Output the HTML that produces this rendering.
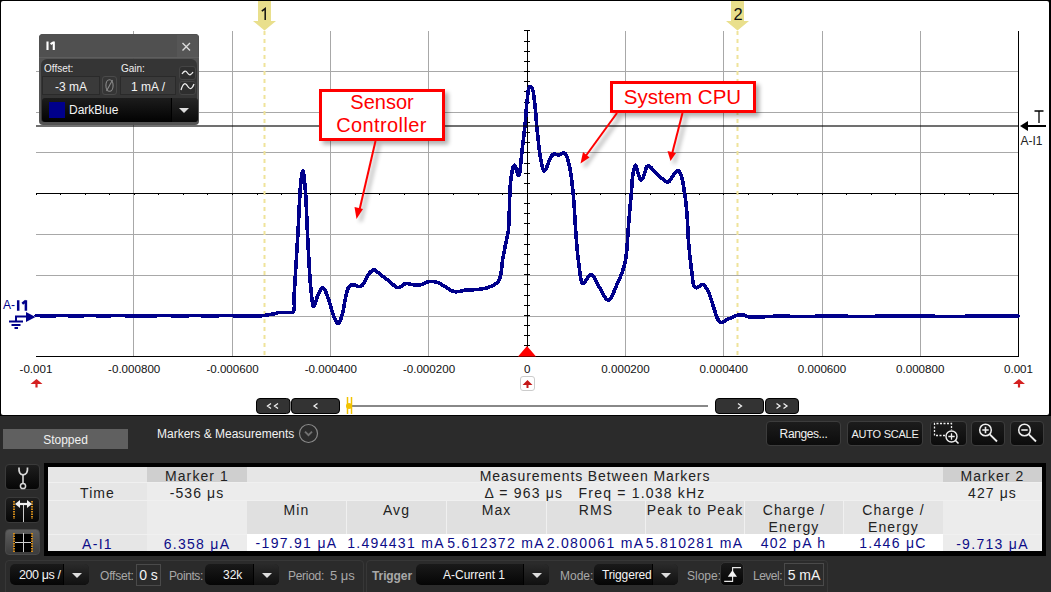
<!DOCTYPE html>
<html><head><meta charset="utf-8">
<style>
html,body{margin:0;padding:0;}
body{width:1051px;height:592px;background:#2b2b2b;position:relative;overflow:hidden;font-family:"Liberation Sans",sans-serif;}
.abs{position:absolute;white-space:nowrap;}
.btn{position:absolute;white-space:nowrap;background:linear-gradient(#1c1c1c,#0c0c0c);border:1px solid #3c3c3c;border-radius:4px;color:#f0f0f0;font-size:12.5px;text-align:center;box-sizing:border-box;}
.c{position:absolute;white-space:nowrap;box-sizing:border-box;font-size:14px;letter-spacing:1.1px;color:#222;text-align:center;}
.blue{color:#0c0c88;letter-spacing:1.3px;}
.lbl{position:absolute;white-space:nowrap;color:#a8a8a8;font-size:12px;}
.dd{position:absolute;background:linear-gradient(#1a1a1a,#050505);border-radius:5px;box-sizing:border-box;color:#f4f4f4;font-size:13px;}
.dda{position:absolute;top:0;bottom:0;right:0;background:linear-gradient(#2a2a2a,#101010);border-radius:0 5px 5px 0;border-left:1px solid #000;}
.dda:after{content:"";position:absolute;left:50%;top:50%;margin-left:-5px;margin-top:-2px;border-left:5px solid transparent;border-right:5px solid transparent;border-top:5px solid #ddd;}
</style></head><body>
<svg class="abs" style="left:0;top:0;font-family:'Liberation Sans',sans-serif" width="1051" height="416" viewBox="0 0 1051 416">
<rect x="0" y="0" width="1051" height="416" fill="#000"/>
<rect x="1" y="1" width="1048" height="414" rx="2" fill="#fff"/>
<g stroke="#a8a8a8" stroke-width="1" shape-rendering="crispEdges">
<line x1="133.5" y1="31" x2="133.5" y2="356" />
<line x1="232.5" y1="31" x2="232.5" y2="356" />
<line x1="330.5" y1="31" x2="330.5" y2="356" />
<line x1="428.5" y1="31" x2="428.5" y2="356" />
<line x1="625.5" y1="31" x2="625.5" y2="356" />
<line x1="723.5" y1="31" x2="723.5" y2="356" />
<line x1="822.5" y1="31" x2="822.5" y2="356" />
<line x1="920.5" y1="31" x2="920.5" y2="356" />
<line x1="36" y1="71.5" x2="1018" y2="71.5" />
<line x1="36" y1="112.5" x2="1018" y2="112.5" />
<line x1="36" y1="152.5" x2="1018" y2="152.5" />
<line x1="36" y1="234.5" x2="1018" y2="234.5" />
<line x1="36" y1="275.5" x2="1018" y2="275.5" />
<line x1="36" y1="316.5" x2="1018" y2="316.5" />
</g>
<g stroke="#000" stroke-width="1" shape-rendering="crispEdges">
<line x1="36" y1="193.5" x2="1018" y2="193.5"/>
<line x1="527.5" y1="31" x2="527.5" y2="356"/>
<line x1="36" y1="356.5" x2="1019" y2="356.5"/>
<line x1="1018.5" y1="31" x2="1018.5" y2="357"/>
<line x1="524" y1="30.5" x2="530" y2="30.5" />
<line x1="524" y1="41.5" x2="530" y2="41.5" />
<line x1="524" y1="51.5" x2="530" y2="51.5" />
<line x1="524" y1="61.5" x2="530" y2="61.5" />
<line x1="524" y1="71.5" x2="530" y2="71.5" />
<line x1="524" y1="81.5" x2="530" y2="81.5" />
<line x1="524" y1="91.5" x2="530" y2="91.5" />
<line x1="524" y1="102.5" x2="530" y2="102.5" />
<line x1="524" y1="112.5" x2="530" y2="112.5" />
<line x1="524" y1="122.5" x2="530" y2="122.5" />
<line x1="524" y1="132.5" x2="530" y2="132.5" />
<line x1="524" y1="142.5" x2="530" y2="142.5" />
<line x1="524" y1="152.5" x2="530" y2="152.5" />
<line x1="524" y1="163.5" x2="530" y2="163.5" />
<line x1="524" y1="173.5" x2="530" y2="173.5" />
<line x1="524" y1="183.5" x2="530" y2="183.5" />
<line x1="524" y1="193.5" x2="530" y2="193.5" />
<line x1="524" y1="203.5" x2="530" y2="203.5" />
<line x1="524" y1="213.5" x2="530" y2="213.5" />
<line x1="524" y1="223.5" x2="530" y2="223.5" />
<line x1="524" y1="234.5" x2="530" y2="234.5" />
<line x1="524" y1="244.5" x2="530" y2="244.5" />
<line x1="524" y1="254.5" x2="530" y2="254.5" />
<line x1="524" y1="264.5" x2="530" y2="264.5" />
<line x1="524" y1="274.5" x2="530" y2="274.5" />
<line x1="524" y1="284.5" x2="530" y2="284.5" />
<line x1="524" y1="295.5" x2="530" y2="295.5" />
<line x1="524" y1="305.5" x2="530" y2="305.5" />
<line x1="524" y1="315.5" x2="530" y2="315.5" />
<line x1="524" y1="325.5" x2="530" y2="325.5" />
<line x1="524" y1="335.5" x2="530" y2="335.5" />
<line x1="524" y1="345.5" x2="530" y2="345.5" />
<line x1="36.5" y1="193" x2="36.5" y2="195" />
<line x1="60.5" y1="193" x2="60.5" y2="195" />
<line x1="85.5" y1="193" x2="85.5" y2="195" />
<line x1="109.5" y1="193" x2="109.5" y2="195" />
<line x1="134.5" y1="193" x2="134.5" y2="195" />
<line x1="158.5" y1="193" x2="158.5" y2="195" />
<line x1="183.5" y1="193" x2="183.5" y2="195" />
<line x1="207.5" y1="193" x2="207.5" y2="195" />
<line x1="232.5" y1="193" x2="232.5" y2="195" />
<line x1="257.5" y1="193" x2="257.5" y2="195" />
<line x1="281.5" y1="193" x2="281.5" y2="195" />
<line x1="306.5" y1="193" x2="306.5" y2="195" />
<line x1="330.5" y1="193" x2="330.5" y2="195" />
<line x1="355.5" y1="193" x2="355.5" y2="195" />
<line x1="379.5" y1="193" x2="379.5" y2="195" />
<line x1="404.5" y1="193" x2="404.5" y2="195" />
<line x1="428.5" y1="193" x2="428.5" y2="195" />
<line x1="453.5" y1="193" x2="453.5" y2="195" />
<line x1="478.5" y1="193" x2="478.5" y2="195" />
<line x1="502.5" y1="193" x2="502.5" y2="195" />
<line x1="527.5" y1="193" x2="527.5" y2="195" />
<line x1="551.5" y1="193" x2="551.5" y2="195" />
<line x1="576.5" y1="193" x2="576.5" y2="195" />
<line x1="600.5" y1="193" x2="600.5" y2="195" />
<line x1="625.5" y1="193" x2="625.5" y2="195" />
<line x1="650.5" y1="193" x2="650.5" y2="195" />
<line x1="674.5" y1="193" x2="674.5" y2="195" />
<line x1="699.5" y1="193" x2="699.5" y2="195" />
<line x1="723.5" y1="193" x2="723.5" y2="195" />
<line x1="748.5" y1="193" x2="748.5" y2="195" />
<line x1="772.5" y1="193" x2="772.5" y2="195" />
<line x1="797.5" y1="193" x2="797.5" y2="195" />
<line x1="822.5" y1="193" x2="822.5" y2="195" />
<line x1="846.5" y1="193" x2="846.5" y2="195" />
<line x1="871.5" y1="193" x2="871.5" y2="195" />
<line x1="895.5" y1="193" x2="895.5" y2="195" />
<line x1="920.5" y1="193" x2="920.5" y2="195" />
<line x1="944.5" y1="193" x2="944.5" y2="195" />
<line x1="969.5" y1="193" x2="969.5" y2="195" />
<line x1="993.5" y1="193" x2="993.5" y2="195" />
</g>
<!-- markers -->
<g stroke="#efe39a" stroke-width="2" stroke-dasharray="4 4">
<line x1="264.5" y1="31" x2="264.5" y2="356"/>
<line x1="737.5" y1="31" x2="737.5" y2="356"/>
</g>
<g fill="#e9df8c">
<path d="M258 1 H271 V21 H276 L264.5 30.5 L253 21 H258 Z"/>
<path d="M731 1 H744 V21 H749 L737.5 30.5 L726 21 H731 Z"/>
</g>
<g font-size="14" fill="#111" text-anchor="middle">

<text x="738" y="20" font-size="16.5" font-weight="normal">2</text>
</g>
<path d="M261.8 11.2 L265.2 8.6 V20" fill="none" stroke="#111" stroke-width="1.5"/>
<!-- trace -->
<polyline points="36.0,315.5 36.7,315.5 38.6,315.6 41.3,315.8 44.4,315.9 47.4,316.0 50.0,316.0 52.0,316.0 54.1,315.9 56.0,315.7 58.0,315.6 60.0,315.5 62.0,315.5 64.1,315.5 66.3,315.6 68.4,315.7 70.6,315.9 72.8,316.0 75.0,316.0 77.4,316.0 79.9,315.9 82.4,315.8 85.0,315.6 87.5,315.5 90.0,315.5 92.5,315.5 95.0,315.6 97.6,315.8 100.1,315.9 102.6,316.0 105.0,316.0 107.2,316.0 109.4,315.9 111.5,315.7 113.7,315.6 115.8,315.5 118.0,315.5 120.3,315.5 122.6,315.6 124.9,315.7 127.2,315.8 129.6,315.9 132.0,316.0 134.9,316.0 137.9,316.1 141.0,316.1 144.0,316.1 147.1,316.0 150.0,316.0 152.6,315.9 155.1,315.8 157.6,315.7 160.1,315.6 162.5,315.5 165.0,315.5 167.5,315.5 170.0,315.6 172.5,315.8 175.0,315.9 177.5,316.0 180.0,316.0 182.5,316.0 185.0,315.9 187.5,315.8 190.0,315.6 192.5,315.5 195.0,315.5 197.5,315.5 200.0,315.6 202.5,315.8 205.0,315.9 207.5,316.0 210.0,316.0 212.5,316.0 215.0,315.9 217.5,315.8 220.0,315.6 222.5,315.5 225.0,315.5 227.5,315.5 230.1,315.6 232.6,315.7 235.1,315.8 237.6,315.9 240.0,316.0 242.1,316.1 244.3,316.1 246.3,316.1 248.4,316.2 250.3,316.2 252.0,316.2 253.1,316.2 254.2,316.2 255.1,316.1 256.1,316.1 257.0,316.1 258.0,316.0 259.0,315.9 260.0,315.9 261.0,315.8 262.0,315.7 263.0,315.6 264.0,315.5 265.0,315.4 266.0,315.2 267.0,315.0 268.0,314.9 269.0,314.7 270.0,314.5 271.0,314.3 272.1,314.2 273.1,314.0 274.2,313.9 275.1,313.7 276.0,313.5 276.5,313.3 277.0,313.2 277.4,313.0 277.9,312.8 278.4,312.6 279.0,312.5 280.8,312.4 283.1,312.4 285.7,312.4 288.3,312.5 290.5,312.5 292.0,312.3 292.4,312.2 292.7,312.1 293.0,312.1 293.2,312.0 293.4,311.8 293.6,311.5 294.1,310.0 294.3,307.5 294.3,304.5 294.2,301.2 294.2,297.9 294.2,295.0 294.3,292.7 294.4,290.5 294.5,288.3 294.7,286.1 294.8,283.6 295.0,280.7 295.4,274.2 295.9,266.6 296.4,258.1 296.9,249.2 297.5,240.3 298.0,231.8 298.5,223.3 298.9,214.3 299.3,205.3 299.8,196.8 300.2,189.2 300.8,183.0 301.1,180.2 301.4,177.5 301.8,174.9 302.1,172.8 302.5,171.4 302.8,170.9 303.2,171.6 303.6,173.3 303.9,175.9 304.3,179.1 304.7,182.5 305.0,185.9 305.6,193.4 306.1,202.5 306.6,212.7 307.0,223.3 307.5,233.7 308.0,243.3 308.4,251.5 308.9,259.8 309.3,268.0 309.8,275.8 310.3,283.0 310.9,289.3 311.3,293.1 311.7,296.9 312.1,300.6 312.6,303.7 313.1,305.8 313.7,306.6 314.3,306.0 314.9,304.4 315.6,302.1 316.4,299.5 317.2,297.0 318.0,295.0 318.8,293.5 319.6,291.9 320.4,290.4 321.2,289.1 322.1,288.2 322.9,287.9 323.8,288.4 324.7,289.7 325.6,291.5 326.4,293.6 327.3,295.8 328.1,297.9 329.1,300.8 330.1,304.0 331.0,307.5 331.9,310.9 332.9,314.0 333.9,316.6 334.6,318.2 335.4,319.7 336.1,321.2 336.9,322.4 337.6,323.2 338.3,323.5 339.0,323.0 339.7,321.9 340.4,320.3 341.0,318.4 341.6,316.4 342.2,314.5 342.9,312.0 343.4,309.3 344.0,306.4 344.5,303.5 345.0,300.7 345.5,298.2 345.9,296.3 346.3,294.4 346.7,292.6 347.1,290.9 347.6,289.4 348.2,288.1 348.6,287.4 349.0,286.8 349.5,286.2 350.0,285.7 350.5,285.3 351.0,285.0 351.5,284.8 352.0,284.8 352.6,284.8 353.2,284.8 353.7,284.9 354.3,285.0 355.0,285.2 355.7,285.4 356.3,285.7 357.0,286.0 357.7,286.3 358.4,286.4 359.0,286.4 359.6,286.4 360.2,286.4 360.7,286.3 361.3,286.1 361.8,285.8 362.5,285.1 363.2,284.1 363.9,283.0 364.5,281.7 365.1,280.5 365.8,279.3 366.5,278.1 367.1,276.9 367.8,275.7 368.4,274.6 369.2,273.5 369.9,272.6 370.5,272.0 371.2,271.3 371.9,270.8 372.6,270.3 373.2,270.0 373.9,269.9 374.5,270.0 375.0,270.2 375.6,270.6 376.1,271.0 376.7,271.5 377.3,271.9 378.2,272.5 379.0,273.2 380.0,274.0 380.9,274.8 381.8,275.6 382.8,276.4 383.8,277.2 384.8,277.9 385.7,278.7 386.8,279.4 387.8,280.2 388.9,281.0 390.3,282.2 391.8,283.5 393.4,284.9 394.9,286.2 396.5,287.1 398.0,287.5 399.3,287.3 400.6,286.7 401.8,285.8 403.1,284.8 404.4,284.0 405.7,283.6 407.0,283.5 408.2,283.7 409.5,284.0 410.8,284.3 412.1,284.6 413.3,284.8 414.4,284.9 415.5,285.0 416.6,285.0 417.7,285.0 418.8,285.0 420.0,284.8 421.6,284.4 423.3,283.8 425.0,283.0 426.8,282.3 428.4,281.7 430.0,281.4 431.1,281.3 432.1,281.3 433.1,281.4 434.1,281.5 435.0,281.8 436.0,282.0 437.0,282.3 437.9,282.7 438.9,283.2 439.9,283.7 440.9,284.2 442.0,284.8 443.8,285.8 445.8,287.2 447.9,288.6 450.1,289.9 452.2,290.9 454.4,291.6 456.4,291.8 458.4,291.6 460.4,291.2 462.4,290.7 464.5,290.3 466.5,290.0 468.5,289.9 470.6,289.8 472.7,289.8 474.7,289.7 476.7,289.6 478.7,289.4 480.5,289.1 482.4,288.9 484.2,288.5 486.0,288.1 487.7,287.6 489.4,287.0 491.1,286.3 492.7,285.6 494.4,284.7 495.9,283.7 497.3,282.5 498.5,281.0 499.9,278.1 500.8,274.4 501.4,270.2 501.9,265.8 502.4,261.4 503.0,257.4 503.7,253.9 504.4,250.3 505.1,246.8 505.7,243.4 506.4,240.3 506.9,237.6 507.2,236.2 507.5,235.1 507.7,234.0 507.9,232.9 508.2,231.6 508.4,230.0 508.9,223.6 509.2,214.8 509.5,204.7 509.8,194.4 510.3,185.1 511.0,178.0 511.5,175.1 512.0,172.2 512.5,169.5 513.1,167.4 513.7,165.9 514.4,165.3 515.1,166.0 515.8,167.9 516.5,170.4 517.3,172.8 518.0,174.7 518.6,175.4 519.4,174.1 520.0,170.9 520.5,166.3 521.0,161.1 521.5,155.7 522.0,151.0 522.6,146.3 523.2,141.3 523.8,136.3 524.3,131.4 524.8,126.6 525.3,122.0 525.6,118.4 525.9,115.0 526.1,111.6 526.4,108.3 526.6,105.1 527.0,102.0 527.3,99.0 527.6,95.8 528.0,92.6 528.4,89.8 528.9,87.8 529.6,86.8 530.0,86.7 530.4,86.9 530.8,87.1 531.2,87.5 531.6,87.9 532.0,88.4 532.7,89.8 533.2,91.7 533.6,94.0 533.9,96.6 534.2,99.3 534.6,102.0 535.1,106.2 535.5,110.8 535.9,115.7 536.3,120.8 536.7,125.8 537.2,130.7 537.7,135.4 538.2,140.1 538.7,144.9 539.2,149.5 539.8,153.8 540.5,157.7 541.0,160.5 541.6,163.4 542.1,166.3 542.7,168.6 543.5,170.3 544.3,171.0 545.5,170.0 546.8,167.2 548.2,163.4 549.8,159.5 551.4,156.2 553.0,154.4 553.9,154.1 554.9,154.2 555.8,154.4 556.8,154.7 557.8,155.0 558.7,155.0 559.7,154.7 560.7,154.2 561.7,153.7 562.7,153.2 563.6,152.9 564.4,153.0 565.4,153.8 566.2,155.0 566.9,156.7 567.5,158.7 568.1,160.8 568.7,163.0 569.6,166.8 570.4,171.2 571.2,176.0 571.8,181.1 572.4,186.4 573.0,191.7 573.6,198.5 574.2,205.7 574.6,213.2 575.1,220.7 575.5,228.0 576.0,234.8 576.4,240.0 576.8,245.0 577.2,249.9 577.7,254.6 578.2,259.2 578.8,263.6 579.3,267.6 579.8,271.9 580.4,276.1 581.0,279.8 581.9,282.5 583.0,283.7 584.1,283.2 585.4,281.5 586.8,279.2 588.3,276.9 589.7,275.2 591.1,274.5 592.5,275.2 593.8,276.8 595.1,279.1 596.3,281.7 597.6,284.3 599.0,286.6 600.5,289.2 602.1,292.2 603.7,295.2 605.3,297.8 606.9,299.6 608.4,300.3 609.8,299.6 611.1,297.9 612.3,295.4 613.6,292.5 614.8,289.4 616.0,286.6 617.6,283.2 619.2,279.7 620.8,275.9 622.3,272.0 623.6,267.9 624.8,263.6 625.9,257.9 626.6,251.8 627.2,245.3 627.6,238.8 628.0,232.3 628.5,226.0 629.0,220.1 629.5,214.0 630.0,208.1 630.5,202.3 631.0,196.8 631.4,191.7 631.7,188.3 631.9,185.1 632.1,182.0 632.3,179.0 632.6,176.3 633.0,173.8 633.3,172.0 633.7,170.1 634.2,168.3 634.6,166.8 635.1,165.7 635.5,165.3 635.9,165.7 636.4,166.9 636.8,168.6 637.2,170.4 637.7,172.3 638.2,173.8 638.7,175.1 639.1,176.5 639.6,177.8 640.1,179.0 640.6,179.9 641.1,180.2 641.5,180.0 641.9,179.6 642.3,178.9 642.7,178.1 643.2,177.2 643.6,176.3 644.3,174.6 644.9,172.5 645.5,170.2 646.2,168.1 647.0,166.5 647.9,165.7 648.8,165.8 649.7,166.3 650.7,167.2 651.7,168.3 652.8,169.4 653.8,170.4 655.0,171.6 656.3,172.9 657.5,174.3 658.8,175.6 660.1,176.9 661.4,178.0 662.5,178.9 663.7,179.8 664.8,180.7 666.0,181.4 667.1,181.9 668.1,181.9 669.1,181.4 669.9,180.5 670.8,179.3 671.6,178.0 672.4,176.6 673.2,175.5 674.0,174.5 674.8,173.3 675.6,172.2 676.4,171.3 677.1,170.6 677.8,170.4 678.4,170.7 679.0,171.3 679.6,172.1 680.1,173.2 680.6,174.3 681.1,175.5 681.8,177.5 682.4,179.8 682.9,182.4 683.3,185.1 683.8,187.9 684.2,190.7 684.7,193.9 685.2,197.1 685.6,200.4 686.0,203.9 686.4,207.4 686.7,211.0 687.1,215.7 687.4,220.7 687.7,225.9 687.9,231.0 688.1,235.7 688.4,239.7 688.5,241.7 688.7,243.5 688.8,245.1 689.0,246.7 689.1,248.4 689.3,250.3 689.6,253.6 690.0,257.2 690.4,261.1 690.9,265.0 691.3,268.7 691.8,272.2 692.2,275.0 692.5,277.8 692.8,280.6 693.2,283.1 693.7,285.2 694.4,286.6 694.8,287.0 695.1,287.3 695.5,287.6 696.0,287.7 696.4,287.8 696.9,287.8 697.8,287.5 698.7,286.8 699.8,286.0 700.8,285.1 701.9,284.5 702.8,284.4 703.7,284.8 704.6,285.6 705.5,286.7 706.3,288.0 707.1,289.4 707.9,290.8 709.0,293.1 710.0,295.9 711.0,298.9 712.0,302.0 712.9,305.0 713.8,307.7 714.5,309.9 715.2,312.1 715.8,314.3 716.5,316.3 717.2,318.0 718.0,319.5 718.5,320.3 719.0,321.0 719.6,321.6 720.1,322.1 720.7,322.4 721.4,322.6 722.2,322.5 723.2,322.1 724.1,321.5 725.1,320.8 726.2,320.1 727.3,319.5 728.9,318.8 730.6,318.0 732.4,317.2 734.2,316.4 735.9,315.8 737.4,315.3 738.3,315.1 739.2,314.9 740.0,314.8 740.8,314.7 741.6,314.7 742.5,314.8 743.6,315.0 744.6,315.4 745.8,315.8 746.9,316.3 748.1,316.7 749.3,317.0 750.8,317.2 752.4,317.2 754.0,317.2 755.7,317.1 757.5,317.1 759.4,317.0 762.4,316.9 765.6,316.7 769.1,316.5 772.7,316.3 776.2,316.2 779.7,316.1 783.0,316.1 786.3,316.2 789.6,316.3 792.9,316.4 796.4,316.5 800.0,316.5 804.7,316.5 809.6,316.4 814.6,316.3 819.8,316.1 824.9,316.0 830.0,316.0 835.0,316.0 840.0,316.1 845.0,316.2 850.0,316.4 855.0,316.5 860.0,316.5 865.0,316.5 870.0,316.4 875.0,316.3 880.0,316.2 885.0,316.1 890.0,316.0 895.0,316.0 900.0,315.9 905.0,315.9 910.0,315.9 915.0,316.0 920.0,316.0 925.0,316.1 930.0,316.2 935.0,316.3 940.0,316.4 945.0,316.5 950.0,316.5 955.0,316.5 959.9,316.4 964.8,316.3 969.7,316.2 974.8,316.1 980.0,316.0 987.0,316.0 995.1,316.0 1003.5,316.0 1010.8,316.0 1016.0,316.0 1018.0,316.0" fill="none" stroke="#00008b" stroke-width="3.6" stroke-linejoin="round" stroke-linecap="round" shape-rendering="crispEdges"/>
<line x1="36" y1="126" x2="1018" y2="126" stroke="rgba(0,0,0,0.56)" stroke-width="2" shape-rendering="crispEdges"/>
<!-- trigger T -->
<path d="M1020 126 L1028 121 L1028 131 Z" fill="#000"/>
<line x1="1026" y1="126" x2="1046" y2="126" stroke="#000" stroke-width="2"/>
<path d="M1034.5 111 H1043.5 M1039 111 V123" stroke="#000" stroke-width="1.3" fill="none"/>
<text x="1031.5" y="145" font-size="12" text-anchor="middle" fill="#222">A-I1</text>
<!-- left channel indicator -->
<text x="3" y="309" font-size="12" fill="#00008b">A-</text>
<path d="M18.2 300.2 V310.8 M25.9 300.2 V310.8 M22.3 303.8 L25.9 300.8" fill="none" stroke="#00008b" stroke-width="2.5"/>
<path d="M26 312 L35.5 317 L26 322 Z" fill="#00008b"/>
<path d="M16 321 V316.5 H28" fill="none" stroke="#00008b" stroke-width="2"/>
<g stroke="#00008b" stroke-width="2"><line x1="9" y1="321.5" x2="23" y2="321.5"/><line x1="11.5" y1="325" x2="20.5" y2="325"/><line x1="14.5" y1="328" x2="18" y2="328"/></g>
<!-- axis labels -->
<g font-size="11.6" fill="#111" text-anchor="middle">
<text x="36.0" y="373">-0.001</text>
<text x="134.2" y="373">-0.000800</text>
<text x="232.5" y="373">-0.000600</text>
<text x="330.8" y="373">-0.000400</text>
<text x="429.0" y="373">-0.000200</text>
<text x="527.2" y="373">0</text>
<text x="625.5" y="373">0.000200</text>
<text x="723.8" y="373">0.000400</text>
<text x="822.0" y="373">0.000600</text>
<text x="920.2" y="373">0.000800</text>
<text x="1018.5" y="373">0.001</text>
</g>
<!-- red trigger triangle -->
<path d="M518 356.5 L527 346 L536 356.5 Z" fill="#f00"/>
<g fill="#d42020">
<path d="M30.5 384 L36.5 379 L42.5 384 H37.6 V387.5 H35.4 V384 Z"/>
<path d="M1013 384 L1019 379 L1025 384 H1020.1 V387.5 H1017.9 V384 Z"/>
</g>
<rect x="520.5" y="376.5" width="14" height="14" rx="2.5" fill="#fff" stroke="#ccc"/>
<path d="M522.5 385 L527.5 380 L532.5 385 H528.5 V388 H526.5 V385 Z" fill="#c41818"/>
<!-- scrollbar -->
<line x1="350" y1="406" x2="708" y2="406" stroke="#888" stroke-width="2"/>
<g fill="#333" stroke="#000" stroke-width="1">
<rect x="256.5" y="398.5" width="33.5" height="15" rx="3.5"/>
<rect x="291.5" y="398.5" width="48" height="15" rx="3.5"/>
<rect x="715.5" y="398.5" width="48" height="15" rx="3.5"/>
<rect x="765.5" y="398.5" width="33" height="15" rx="3.5"/>
</g>
<g fill="none" stroke="#f0f0f0" stroke-width="1.3">
<path d="M271 403.5 L267.5 406 L271 408.5 M278 403.5 L274.5 406 L278 408.5"/>
<path d="M317.5 403.5 L314 406 L317.5 408.5"/>
<path d="M738 403.5 L741.5 406 L738 408.5"/>
<path d="M776.5 403.5 L780 406 L776.5 408.5 M783.5 403.5 L787 406 L783.5 408.5"/>
</g>
<g stroke="#f2c200" stroke-width="1.5"><line x1="347.5" y1="397" x2="347.5" y2="414"/><line x1="351.5" y1="397" x2="351.5" y2="414"/></g>
<circle cx="349" cy="406" r="3" fill="#f2c200"/>
<!-- annotations -->
<defs><filter id="sh" x="-20%" y="-20%" width="150%" height="150%"><feGaussianBlur stdDeviation="2"/></filter></defs>
<g opacity="0.3" filter="url(#sh)" transform="translate(3.5,3.5)">
<rect x="319" y="89" width="126" height="52" fill="#000"/>
<rect x="610" y="81" width="146" height="32" fill="#000"/>
<path d="M375.5 141 L357 218" stroke="#000" stroke-width="3"/>
<path d="M617 113 L581 163" stroke="#000" stroke-width="3"/>
<path d="M682.5 113 L670.5 160" stroke="#000" stroke-width="3"/>
</g>
<g fill="#fff" stroke="#ff0000" stroke-width="3">
<rect x="320.5" y="90.5" width="123" height="49"/>
<rect x="611.5" y="82.5" width="143" height="29"/>
</g>
<g font-size="20" fill="#ff0000" text-anchor="middle">
<text x="382" y="109">Sensor</text>
<text x="381.5" y="132" letter-spacing="0.4">Controller</text>
<text x="682.5" y="104" font-size="20.5">System CPU</text>
</g>
<g stroke="#ff0000" stroke-width="2" fill="none">
<path d="M375.5 141 L359 212"/>
<path d="M617 113 L585 157"/>
<path d="M682.5 113 L672 154"/>
</g>
<g fill="#ff0000">
<path d="M356.5 219 L354.5 207 L363 209 Z"/>
<path d="M580.5 163.5 L583 152 L589.5 157.5 Z"/>
<path d="M670.5 161 L667.5 151 L676 153 Z"/>
</g>
</svg>
<!-- I1 panel -->
<div class="abs" style="left:39px;top:34px;width:160px;height:91px;background:rgba(76,76,76,0.96);border-radius:4px;">
  <div class="abs" style="left:0;top:0;width:160px;height:24px;background:#505050;border-radius:4px 4px 0 0;border-bottom:1px solid #5e5e5e;box-sizing:border-box;"></div>
  <svg class="abs" style="left:0;top:0" width="30" height="24"><path d="M8.5 7.5 V16 M14.8 7.5 V16 M11.6 10.2 L14.8 8" fill="none" stroke="#fff" stroke-width="2.1"/></svg>
  <div class="abs" style="left:138px;top:1px;width:21px;height:22px;background:#565656;"></div>
  <svg class="abs" style="left:142px;top:8px" width="12" height="10"><path d="M1.5 1 L9 8.5 M9 1 L1.5 8.5" stroke="#dcdcdc" stroke-width="1.4"/></svg>
  <div class="abs" style="left:2px;top:25px;width:156px;height:63px;background:rgba(52,52,52,0.96);border-radius:6px 6px 3px 3px;"></div>
  <div class="abs" style="left:5px;top:29px;color:#eee;font-size:10px;">Offset:</div>
  <div class="abs" style="left:82px;top:29px;color:#eee;font-size:10px;">Gain:</div>
  <div class="abs" style="left:3px;top:42px;width:58px;height:19px;background:#3a3a3a;border:1px solid #2a2a2a;box-sizing:border-box;color:#f4f4f4;font-size:12px;text-align:center;line-height:20px;">-3 mA</div>
  <div class="abs" style="left:63px;top:42px;width:15px;height:19px;border:1px solid #4a4a4a;border-radius:3px;box-sizing:border-box;"></div><svg class="abs" style="left:63px;top:42px" width="15" height="19"><ellipse cx="7.5" cy="9.5" rx="3.6" ry="5.8" fill="none" stroke="#8a8a8a" stroke-width="1.1"/><line x1="4.5" y1="15" x2="10.5" y2="4" stroke="#8a8a8a" stroke-width="1.1"/></svg>
  <div class="abs" style="left:81px;top:42px;width:56px;height:19px;background:#3a3a3a;border:1px solid #2a2a2a;box-sizing:border-box;color:#f4f4f4;font-size:12px;text-align:center;line-height:20px;">1 mA /</div>
  <div class="abs" style="left:140px;top:32px;width:17px;height:14px;border:1px solid #444;border-radius:3px;box-sizing:border-box;background:#2e2e2e;"></div>
  <div class="abs" style="left:140px;top:47px;width:17px;height:14px;border:1px solid #444;border-radius:3px;box-sizing:border-box;background:#2e2e2e;"></div>
  <svg class="abs" style="left:140px;top:32px" width="17" height="30"><path d="M3 8 Q6 3 8.5 7 T14 6" stroke="#eee" stroke-width="1.3" fill="none"/><path d="M2 24 Q5 14 8.5 20 T15 18" stroke="#eee" stroke-width="1.3" fill="none"/></svg>
  <div class="abs" style="left:3px;top:64px;width:155px;height:24px;background:linear-gradient(#1c1c1c,#020202);border-radius:3px;"></div>
  <div class="abs" style="left:10px;top:68px;width:16px;height:16px;background:#00008b;"></div>
  <div class="abs" style="left:30px;top:69px;color:#f4f4f4;font-size:12px;">DarkBlue</div>
  <div class="abs" style="left:132px;top:64px;width:26px;height:24px;background:linear-gradient(#262626,#0a0a0a);border-left:1px solid #000;border-radius:0 3px 3px 0;"></div>
  <div class="abs" style="left:140px;top:74px;border-left:5px solid transparent;border-right:5px solid transparent;border-top:5px solid #ddd;"></div>
</div>

<!-- bottom panel -->
<div class="abs" style="left:3px;top:429px;width:125px;height:20px;background:#606060;color:#f0f0f0;font-size:12px;text-align:center;line-height:23px;">Stopped</div>
<div class="abs" style="left:157px;top:427px;color:#f2f2f2;font-size:12px;">Markers &amp; Measurements</div>
<svg class="abs" style="left:298px;top:423px" width="21" height="21"><circle cx="10.5" cy="10.5" r="9" fill="none" stroke="#8a8a8a" stroke-width="1.2"/><path d="M7 8.6 L10.5 12.2 L14 8.6" fill="none" stroke="#707070" stroke-width="1.9"/></svg>

<div class="btn" style="left:766px;top:421px;width:75px;height:25px;line-height:25px;font-size:12px;letter-spacing:-0.4px;">Ranges...</div>
<div class="btn" style="left:847px;top:421px;width:76px;height:25px;line-height:25px;font-size:11px;letter-spacing:-0.25px;">AUTO SCALE</div>
<div class="btn" style="left:930px;top:421px;width:37px;height:25px;"></div>
<div class="btn" style="left:971px;top:421px;width:34px;height:25px;"></div>
<div class="btn" style="left:1010px;top:421px;width:34px;height:25px;"></div>
<svg class="abs" style="left:930px;top:421px" width="120" height="26">
 <path d="M15 14.5 H4.5 V2.5 H21.5 V9" fill="none" stroke="#eee" stroke-width="1.3" stroke-dasharray="2 1.5"/>
 <circle cx="21.5" cy="15.5" r="5.5" fill="#0e0e0e" stroke="#eee" stroke-width="1.4"/>
 <path d="M18.3 15.5 H24.7 M21.5 12.3 V18.7" stroke="#eee" stroke-width="1.3"/>
 <line x1="25.5" y1="19.5" x2="28.5" y2="22.5" stroke="#eee" stroke-width="1.6"/>
 <circle cx="55.5" cy="9" r="5.8" fill="none" stroke="#eee" stroke-width="1.5"/>
 <path d="M52.3 9 H58.7 M55.5 5.8 V12.2" stroke="#eee" stroke-width="1.6"/>
 <line x1="59.8" y1="13.3" x2="67" y2="20.5" stroke="#eee" stroke-width="1.8"/>
 <circle cx="94.5" cy="9" r="5.8" fill="none" stroke="#eee" stroke-width="1.5"/>
 <path d="M91.3 9 H97.7" stroke="#eee" stroke-width="1.6"/>
 <line x1="98.8" y1="13.3" x2="106" y2="20.5" stroke="#eee" stroke-width="1.8"/>
</svg>

<!-- left tool buttons -->
<div class="abs" style="left:5px;top:464px;width:35px;height:26px;background:linear-gradient(#1e1e1e,#060606);border:1px solid #3a3a3a;border-radius:4px;box-sizing:border-box;"></div>
<div class="abs" style="left:5px;top:497px;width:35px;height:26px;background:linear-gradient(#1e1e1e,#060606);border:1px solid #3a3a3a;border-radius:4px;box-sizing:border-box;"></div>
<div class="abs" style="left:5px;top:529px;width:35px;height:26px;background:linear-gradient(#5e5e5e,#3c3c3c);border:1px solid #4a4a4a;border-radius:4px;box-sizing:border-box;"></div>
<svg class="abs" style="left:5px;top:464px" width="35" height="92">
 <path d="M14 3.5 Q13.5 10.5 18 10.8 Q23 10.5 22.5 3.5" fill="none" stroke="#d8d8d8" stroke-width="1.7"/>
 <line x1="18" y1="10.5" x2="18" y2="19.5" stroke="#d8d8d8" stroke-width="1.6"/>
 <circle cx="18" cy="22" r="2.6" fill="none" stroke="#d8d8d8" stroke-width="1.5"/>
 <g stroke="#d08a1a" stroke-width="2" stroke-dasharray="1.5 1"><line x1="9" y1="37" x2="9" y2="55"/><line x1="27" y1="37" x2="27" y2="55"/></g>
 <line x1="18.5" y1="40" x2="18.5" y2="58" stroke="#ccc" stroke-width="1"/>
 <path d="M10 40 L15 36 V44 Z M27 40 L22 36 V44 Z" fill="#f0f0f0"/>
 <line x1="14" y1="40" x2="23" y2="40" stroke="#f0f0f0" stroke-width="2.2"/>
 <rect x="9" y="70" width="18" height="18" fill="#000"/>
 <g stroke="#d08a1a" stroke-width="2" stroke-dasharray="1.5 1"><line x1="9" y1="69" x2="9" y2="88"/><line x1="27" y1="69" x2="27" y2="88"/></g>
 <line x1="18.5" y1="69" x2="18.5" y2="88" stroke="#ccc" stroke-width="1"/>
 <line x1="10" y1="78.5" x2="26" y2="78.5" stroke="#ccc" stroke-width="1"/>
</svg>

<!-- table -->
<div class="abs" style="left:44px;top:463px;width:1002px;height:93px;background:#000;"></div>
<div class="abs" style="left:48px;top:467px;width:994px;height:84px;background:#f0f0f0;"></div>
<div class="c " style="left:48px;top:467px;width:99px;height:15px;background:#e6e6e6;line-height:18px;"></div>
<div class="c " style="left:147px;top:467px;width:100px;height:15px;background:#cfcfcf;line-height:18px;">Marker 1</div>
<div class="c " style="left:247px;top:467px;width:696px;height:15px;background:#e6e6e6;line-height:18px;letter-spacing:0.9px;">Measurements Between Markers</div>
<div class="c " style="left:943px;top:467px;width:99px;height:15px;background:#cfcfcf;line-height:18px;">Marker 2</div>
<div class="c " style="left:48px;top:483px;width:99px;height:17px;background:#e6e6e6;line-height:20px;">Time</div>
<div class="c " style="left:147px;top:483px;width:100px;height:17px;background:#ececec;line-height:20px;">-536 μs</div>
<div class="c " style="left:247px;top:483px;width:696px;height:17px;background:#ececec;line-height:20px;letter-spacing:1.2px;">Δ = 963 μs &nbsp;&nbsp;Freq = 1.038 kHz</div>
<div class="c " style="left:943px;top:483px;width:99px;height:17px;background:#ececec;line-height:20px;">427 μs</div>
<div class="c " style="left:48px;top:501px;width:99px;height:33px;background:#e6e6e6;line-height:18px;"></div>
<div class="c " style="left:147px;top:501px;width:100px;height:33px;background:#ececec;line-height:18px;"></div>
<div class="c " style="left:247px;top:501px;width:99px;height:33px;background:#e0e0e0;line-height:18px;padding-top:0px;"></div>
<div class="c " style="left:347px;top:501px;width:99px;height:33px;background:#e0e0e0;line-height:18px;padding-top:0px;"></div>
<div class="c " style="left:447px;top:501px;width:99px;height:33px;background:#e0e0e0;line-height:18px;padding-top:0px;"></div>
<div class="c " style="left:547px;top:501px;width:98px;height:33px;background:#e0e0e0;line-height:18px;padding-top:0px;"></div>
<div class="c " style="left:646px;top:501px;width:98px;height:33px;background:#e0e0e0;line-height:18px;padding-top:0px;"></div>
<div class="c " style="left:745px;top:501px;width:98px;height:33px;background:#e0e0e0;line-height:16.7px;padding-top:1px;"></div>
<div class="c " style="left:844px;top:501px;width:99px;height:33px;background:#e4e4e4;line-height:16.7px;padding-top:1px;"></div>
<div class="c " style="left:943px;top:501px;width:99px;height:33px;background:#ececec;line-height:18px;"></div>
<div class="c blue" style="left:48px;top:535px;width:99px;height:16px;background:#e6e6e6;line-height:18px;">A-I1</div>
<div class="c blue" style="left:147px;top:535px;width:100px;height:16px;background:#ececec;line-height:18px;">6.358 μA</div>
<div class="c " style="left:247px;top:534px;width:696px;height:17px;background:#ffffff;line-height:18px;"></div>
<div class="c blue" style="left:247px;top:534px;width:99px;height:17px;background:transparent;line-height:19px;">-197.91 μA</div>
<div class="c blue" style="left:346px;top:534px;width:100px;height:17px;background:transparent;line-height:19px;">1.494431 mA</div>
<div class="c blue" style="left:446px;top:534px;width:100px;height:17px;background:transparent;line-height:19px;">5.612372 mA</div>
<div class="c blue" style="left:546px;top:534px;width:99px;height:17px;background:transparent;line-height:19px;">2.080061 mA</div>
<div class="c blue" style="left:645px;top:534px;width:99px;height:17px;background:transparent;line-height:19px;">5.810281 mA</div>
<div class="c blue" style="left:744px;top:534px;width:99px;height:17px;background:transparent;line-height:19px;">402 pA h</div>
<div class="c blue" style="left:843px;top:534px;width:100px;height:17px;background:transparent;line-height:19px;">1.446 μC</div>
<div class="c blue" style="left:943px;top:535px;width:99px;height:16px;background:#ececec;line-height:18px;">-9.713 μA</div>
<div class="c " style="left:247px;top:501px;width:99px;height:33px;background:transparent;line-height:18px;padding-top:0px;">Min</div>
<div class="c " style="left:347px;top:501px;width:99px;height:33px;background:transparent;line-height:18px;padding-top:0px;">Avg</div>
<div class="c " style="left:447px;top:501px;width:99px;height:33px;background:transparent;line-height:18px;padding-top:0px;">Max</div>
<div class="c " style="left:547px;top:501px;width:98px;height:33px;background:transparent;line-height:18px;padding-top:0px;">RMS</div>
<div class="c " style="left:646px;top:501px;width:98px;height:33px;background:transparent;line-height:18px;padding-top:0px;">Peak to Peak</div>
<div class="c " style="left:745px;top:501px;width:98px;height:33px;background:transparent;line-height:16.7px;padding-top:1px;">Charge /<br>Energy</div>
<div class="c " style="left:844px;top:501px;width:99px;height:33px;background:transparent;line-height:16.7px;padding-top:1px;">Charge /<br>Energy</div>
<!-- bottom toolbar -->
<div class="abs" style="left:5px;top:560px;width:359px;height:40px;border:1px solid #373737;border-radius:4px;box-sizing:border-box;"></div>
<div class="abs" style="left:366px;top:560px;width:462px;height:40px;border:1px solid #373737;border-radius:4px;box-sizing:border-box;"></div>
<div class="dd" style="left:10px;top:564px;width:79px;height:21px;"><span class="abs" style="left:9px;top:4px;font-size:12.5px;letter-spacing:-0.4px;">200 μs /</span><div class="dda" style="width:25px;"></div></div>
<div class="lbl" style="left:100px;top:569px;letter-spacing:-0.2px;">Offset:</div>
<div class="abs" style="left:136px;top:564px;width:25px;height:22px;border:1px solid #4a4a4a;box-sizing:border-box;color:#f4f4f4;font-size:14px;text-align:center;line-height:21px;">0 s</div>
<div class="lbl" style="left:169px;top:569px;letter-spacing:-0.4px;">Points:</div>
<div class="dd" style="left:205px;top:564px;width:74px;height:21px;"><span class="abs" style="left:18px;top:4px;font-size:12px;">32k</span><div class="dda" style="width:25px;"></div></div>
<div class="lbl" style="left:288px;top:569px;letter-spacing:-0.3px;">Period:</div>
<div class="lbl" style="left:330px;top:568px;font-size:13px;">5 μs</div>
<div class="lbl" style="left:372px;top:569px;font-weight:bold;letter-spacing:-0.1px;">Trigger</div>
<div class="dd" style="left:416px;top:564px;width:133px;height:21px;"><span class="abs" style="left:27px;top:4px;font-size:12px;">A-Current 1</span><div class="dda" style="width:25px;"></div></div>
<div class="lbl" style="left:560px;top:569px;">Mode:</div>
<div class="dd" style="left:594px;top:564px;width:84px;height:21px;"><span class="abs" style="left:8px;top:4px;font-size:12px;letter-spacing:-0.15px;">Triggered</span><div class="dda" style="width:25px;"></div></div>
<div class="lbl" style="left:687px;top:569px;">Slope:</div>
<div class="dd" style="left:720px;top:562px;width:24px;height:24px;border:1px solid #333;border-radius:5px;"></div>
<svg class="abs" style="left:720px;top:563px" width="23" height="23"><path d="M4.2 18.4 H12.6 V4.6 H21" fill="none" stroke="#e8e8e8" stroke-width="1.1"/><path d="M12.4 7.2 L7.8 13.8 H17 Z" fill="#f4f4f4"/></svg>
<div class="lbl" style="left:753px;top:569px;letter-spacing:-0.5px;">Level:</div>
<div class="abs" style="left:784px;top:563px;width:40px;height:23px;border:1px solid #4a4a4a;box-sizing:border-box;color:#f4f4f4;font-size:14px;text-align:center;line-height:22px;">5 mA</div>
</body></html>
